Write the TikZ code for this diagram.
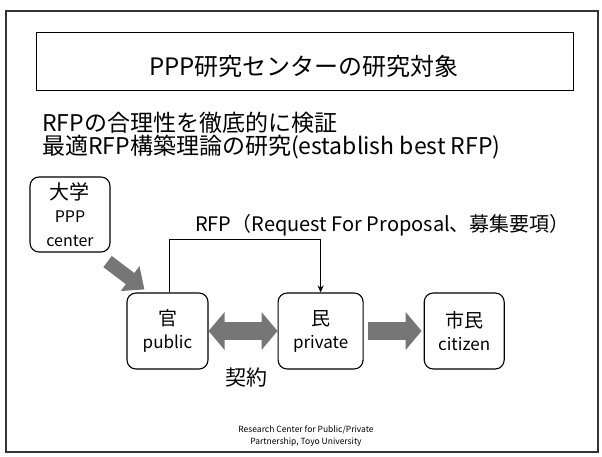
\documentclass[tikz,border=0pt]{standalone}
\usepackage{fontspec}
\setmainfont{Noto Sans CJK JP}
\usetikzlibrary{arrows.meta,positioning}
\definecolor{arrowgray}{RGB}{118,118,118}
\tikzset{%
roundbox/.style={draw, line width=1.1pt, rounded corners=9pt, fill=white, align=center, inner sep=2pt, minimum width=81pt, minimum height=76pt, font=\fontsize{17}{23}\selectfont},
titlebox/.style={draw, line width=1pt, minimum width=537pt, minimum height=58pt, inner sep=0pt},
fatarrow/.style={draw=arrowgray, line width=18pt, -{Triangle[length=16pt,width=37pt]}},
rfpline/.style={draw, line width=1.1pt, -{Stealth[length=7pt,width=6pt]}}
}

\begin{document}
\begin{tikzpicture}[x=1pt, y=-1pt, node distance=69pt]
	\useasboundingbox (0,0) rectangle (602,457);
	\draw[line width=1.2pt, black!80] (6,11) rectangle (598,452);

	\node[titlebox] (title) at (304.5,62) {};
	\node[anchor=base, inner sep=0pt] (titletext) at (304,76) {\fontsize{24}{28}\selectfont PPP研究センターの研究対象};

	\node[anchor=base west, inner sep=0pt] (aim1) at (42,132) {\fontsize{23}{26}\selectfont RFPの合理性を徹底的に検証};
	\node[anchor=base west, inner sep=0pt] (aim2) at (42,155) {\fontsize{23}{26}\selectfont 最適RFP構築理論の研究(establish best RFP)};

	\node[roundbox, minimum width=80pt, minimum height=75pt, font=\fontsize{16}{23.5}\selectfont] (daigaku) at (70,214.5) {{\fontsize{20}{23.5}\selectfont 大学}\\PPP\\center};

	\node[roundbox] (kan) at (167.5,331) {{\fontsize{19}{23}\selectfont 官}\\public};
	\node[roundbox, minimum width=85pt] (min) [right=69pt of kan] {{\fontsize{19}{23}\selectfont 民}\\private};
	\node[roundbox, minimum width=80pt] (shimin) [right=60pt of min] {{\fontsize{19}{23}\selectfont 市民}\\citizen};

	\node[anchor=base west, inner sep=0pt] (rfp) at (195,231) {\fontsize{20}{24}\selectfont RFP（Request For Proposal、募集要項）};
	\node (keiyaku) at (246,378) {\fontsize{21}{24}\selectfont 契約};

	% fat grey arrows
	\draw[fatarrow, line width=14pt, -{Triangle[length=18pt,width=30pt]}] ([shift={(-3,9)}]daigaku.south east) -- ([shift={(18,-3)}]kan.north west);
	\draw[fatarrow, {Triangle[length=16pt,width=37pt]}-{Triangle[length=16pt,width=37pt]}] (kan) -- (min);
	\draw[fatarrow, shorten <=4pt, shorten >=2pt] (min) -- (shimin);

	% RFP line
	\draw[rfpline] ([xshift=2pt]kan.north) -- ++(0,-53) -| (min.north);

	\node[align=center, inner sep=0pt, font=\fontsize{8.5}{12}\selectfont] (footer) at (306,436) {Research Center for Public/Private\\Partnership, Toyo University};
\end{tikzpicture}
\end{document}
